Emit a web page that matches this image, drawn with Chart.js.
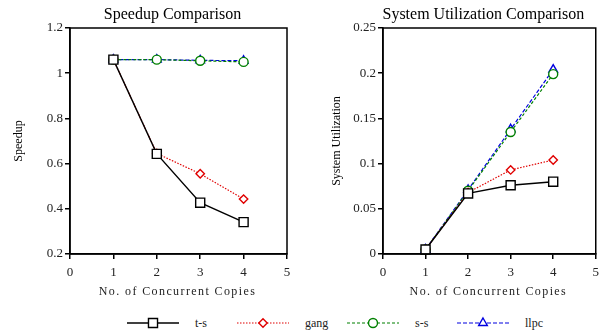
<!DOCTYPE html>
<html>
<head>
<meta charset="utf-8">
<script src="https://cdn.jsdelivr.net/npm/chart.js@4.4.1/dist/chart.umd.min.js"></script>
<style>
  body { margin: 0; background: #fff; width: 605px; height: 333px; position: relative; overflow: hidden; font-family: 'Liberation Serif', 'Times New Roman', serif; }
  #speedup { position: absolute; left: 0; top: 0; }
  #util { position: absolute; left: 300px; top: 0; }
  .item { position: absolute; top: 314px; height: 18px; display: flex; align-items: center; font-size: 12px; color: #222; }
  .item canvas { margin-right: 16px; }
</style>
</head>
<body>
<canvas id="speedup" width="300" height="300"></canvas>
<canvas id="util" width="305" height="300"></canvas>
<div id="legend"></div>
<script>
// Data
const copies = [1, 2, 3, 4];
const seriesNames = ['t-s', 'gang', 's-s', 'llpc'];

const speedupTs   = [1.06, 0.643, 0.427, 0.341];
const speedupGang = [1.06, 0.645, 0.555, 0.443];
const speedupSs   = [1.06, 1.06, 1.055, 1.05];
const speedupLlpc = [1.06, 1.06, 1.057, 1.055];

const utilTs   = [0.005, 0.067, 0.076, 0.080];
const utilGang = [0.005, 0.068, 0.093, 0.104];
const utilSs   = [0.005, 0.070, 0.135, 0.199];
const utilLlpc = [0.005, 0.071, 0.138, 0.204];

const xTicks = [0, 5, 1];            // min, max, step
const speedupTicks = [0.2, 1.2, 0.2];
const utilTicks = [0, 0.25, 0.05];

// look of each series
const styles = [
  { color: '#000000', dash: [],     pointStyle: 'rect',     radius: 6.4, width: 1.4 },
  { color: '#e00000', dash: [1.5, 1.5], pointStyle: 'rectRot', radius: 4.2, width: 1.2 },
  { color: '#008000', dash: [3, 2], pointStyle: 'circle',   radius: 4.5, width: 1.2 },
  { color: '#0000e0', dash: [4, 2], pointStyle: 'triangle', radius: 5,   width: 1.2 }
];

const FONT = "'Liberation Serif', 'Times New Roman', serif";

function makeDatasets(lists) {
  return lists.map((vals, i) => ({
    label: seriesNames[i],
    data: copies.map((c, j) => ({ x: c, y: vals[j] })),
    borderColor: styles[i].color,
    borderWidth: styles[i].width,
    borderDash: styles[i].dash,
    pointStyle: styles[i].pointStyle,
    pointRadius: styles[i].radius,
    pointBorderColor: styles[i].color,
    pointBackgroundColor: '#fff',
    pointBorderWidth: 1.4,
    tension: 0,
    clip: false
  }));
}

// frame round the plot, plus the title and the spaced x axis label
const frameAndText = {
  id: 'frameAndText',
  afterDraw(chart, args, opts) {
    const { ctx, chartArea: a } = chart;
    ctx.save();
    ctx.strokeStyle = '#000';
    ctx.lineWidth = 1.5;
    ctx.strokeRect(a.left, a.top, a.right - a.left, a.bottom - a.top);
    const cx = (a.left + a.right) / 2 - 4;
    ctx.fillStyle = '#000';
    ctx.textAlign = 'center';
    ctx.textBaseline = 'middle';
    ctx.font = '16px ' + FONT;
    ctx.fillText(opts.title, cx - 2, 15);
    ctx.letterSpacing = '1.4px';
    ctx.font = '12px ' + FONT;
    ctx.fillStyle = '#222';
    ctx.fillText(opts.xTitle, cx + 3, 292);
    ctx.restore();
  }
};

function fmt(v) {
  return String(+v.toFixed(2));
}

function makeChart(id, lists, yTicks, yTitle, title, yWidth, padRight, titlePad) {
  return new Chart(document.getElementById(id), {
    type: 'line',
    data: { datasets: makeDatasets(lists) },
    plugins: [frameAndText],
    options: {
      responsive: false,
      animation: false,
      layout: { padding: { top: 28, right: padRight, left: 0, bottom: 0 } },
      plugins: {
        legend: { display: false },
        tooltip: { enabled: false },
        frameAndText: { title: title, xTitle: 'No. of Concurrent Copies' }
      },
      scales: {
        x: {
          type: 'linear',
          min: xTicks[0], max: xTicks[1],
          ticks: { stepSize: xTicks[2], color: '#222', padding: 6, font: { family: FONT, size: 13 }, callback: fmt },
          grid: { display: true, drawOnChartArea: false, drawTicks: true, tickLength: 5, color: '#000', lineWidth: 1.5 },
          border: { display: true, color: '#000', width: 1.5 },
          afterFit(scale) { scale.height = 46; }
        },
        y: {
          type: 'linear',
          min: yTicks[0], max: yTicks[1],
          ticks: { stepSize: yTicks[2], color: '#222', padding: 2, font: { family: FONT, size: 13 }, callback: fmt },
          grid: { display: true, drawOnChartArea: false, drawTicks: true, tickLength: 5, color: '#000', lineWidth: 1.5 },
          border: { display: true, color: '#000', width: 1.5 },
          title: { display: true, text: yTitle, color: '#000', font: { family: FONT, size: 12 }, padding: { top: titlePad, bottom: 0 } },
          afterFit(scale) { scale.width = yWidth; }
        }
      }
    }
  });
}

makeChart('speedup', [speedupTs, speedupGang, speedupSs, speedupLlpc], speedupTicks,
  'Speedup', 'Speedup Comparison', 70, 13, 12);
makeChart('util', [utilTs, utilGang, utilSs, utilLlpc], utilTicks,
  'System Utilization', 'System Utilization Comparison', 83, 5, 30);

// legend: line sample with marker, then the name
const legend = document.getElementById('legend');
seriesNames.forEach((name, i) => {
  const s = styles[i];
  const item = document.createElement('div');
  item.className = 'item';
  item.style.left = (127 + i * 110) + 'px';
  const c = document.createElement('canvas');
  c.width = 52; c.height = 18;
  const ctx = c.getContext('2d');
  ctx.strokeStyle = s.color;
  ctx.lineWidth = s.width;
  ctx.setLineDash(s.dash);
  ctx.beginPath();
  ctx.moveTo(0, 9);
  ctx.lineTo(52, 9);
  ctx.stroke();
  ctx.setLineDash([]);
  ctx.fillStyle = '#fff';
  ctx.lineWidth = 1.4;
  Chart.helpers.drawPoint(ctx, { pointStyle: s.pointStyle, radius: s.radius, rotation: 0, borderWidth: 1.4 }, 26, 9);
  const span = document.createElement('span');
  span.textContent = name;
  item.appendChild(c);
  item.appendChild(span);
  legend.appendChild(item);
});
</script>
</body>
</html>
